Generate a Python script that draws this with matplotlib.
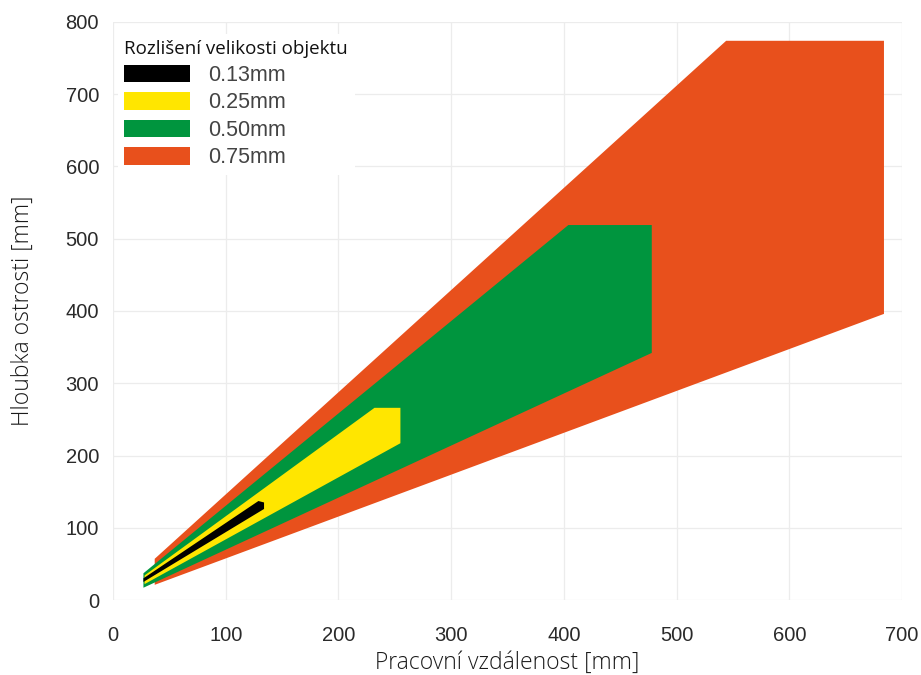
import matplotlib
matplotlib.use("Agg")
import matplotlib.pyplot as plt
from matplotlib.patches import Polygon, Patch

# Depth-of-field envelopes: (working distance, depth of field) outline per resolution
resolutions = ["0.13mm", "0.25mm", "0.50mm", "0.75mm"]
colors = ["#000000", "#FFE600", "#00953E", "#E8501C"]

dist_013 = [27, 27, 129, 134, 134]
depth_013 = [25, 30, 137, 135, 126]

dist_025 = [28, 28, 232, 255, 255]
depth_025 = [22, 34, 266, 266, 217]

dist_050 = [27, 27, 404, 478, 478]
depth_050 = [17, 37, 519, 519, 342]

dist_075 = [37, 37, 544, 684, 684]
depth_075 = [21, 57, 774, 774, 396]

x_ticks = [0, 100, 200, 300, 400, 500, 600, 700]
y_ticks = [0, 100, 200, 300, 400, 500, 600, 700, 800]

W, H = 921, 675
fig = plt.figure(figsize=(W / 100, H / 100), dpi=100)
ax = fig.add_axes([113 / W, 1 - 600 / H, (902 - 113) / W, (600 - 22) / H])

shapes = [(dist_075, depth_075, colors[3]),
          (dist_050, depth_050, colors[2]),
          (dist_025, depth_025, colors[1]),
          (dist_013, depth_013, colors[0])]
for xs, ys, c in shapes:
    ax.add_patch(Polygon(list(zip(xs, ys)), closed=True, facecolor=c,
                         edgecolor="none", zorder=2))

ax.set_xlim(0, 700)
ax.set_ylim(0, 800)
ax.set_xticks(x_ticks)
ax.set_yticks(y_ticks)
ax.grid(True, color="#ececec", linewidth=0.9, zorder=0)
ax.set_axisbelow(True)
for s in ax.spines.values():
    s.set_visible(False)

tick_family = ["Liberation Sans", "DejaVu Sans"]
ax.tick_params(axis="both", length=0, colors="#2a2a2a")
ax.tick_params(axis="x", pad=19)
ax.tick_params(axis="y", pad=10)
for lab in ax.get_xticklabels() + ax.get_yticklabels():
    lab.set_fontfamily(tick_family)
    lab.set_fontsize(14.5)

label_font = dict(family=["Open Sans", "DejaVu Sans"], size=16.5, color="#1a1a1a",
                  fontweight="light")
ax.set_xlabel("Pracovní vzdálenost [mm]", labelpad=4, **label_font)
ax.set_ylabel("Hloubka ostrosti [mm]", labelpad=22, **label_font)

handles = [Patch(facecolor=c, edgecolor="none") for c in colors]
leg = ax.legend(handles, resolutions, loc="upper left",
                bbox_to_anchor=(118 / W, 1 - 34 / H), bbox_transform=fig.transFigure,
                title="Rozlišení velikosti objektu", alignment="left",
                prop=dict(family=tick_family, size=15.5),
                title_fontproperties=dict(family=["Open Sans", "DejaVu Sans"], size=13.5),
                handlelength=3.05, handleheight=0.85, handletextpad=0.85,
                labelspacing=0.3, frameon=True, facecolor="white",
                edgecolor="none", framealpha=1, borderpad=0.3, borderaxespad=0)
leg.get_frame().set_linewidth(0)
for t in leg.get_texts():
    t.set_color("#444444")
leg.get_title().set_color("#111111")

fig.savefig("out.png", dpi=100)
